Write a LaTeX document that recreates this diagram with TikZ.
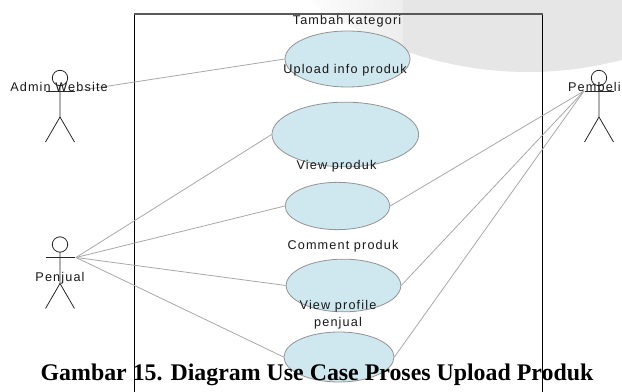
\documentclass[tikz,border=0pt]{standalone}
\usepackage{fontspec}
\setmainfont{Liberation Sans}
\newfontfamily\capfont{Liberation Serif}
\newfontfamily\lblfont[LetterSpace=9]{Liberation Sans}
\usetikzlibrary{shapes.geometric}
\definecolor{uc}{HTML}{CFE7EE}
\definecolor{wm}{HTML}{E6E6E6}
\definecolor{wml}{HTML}{EDEDED}
\definecolor{lnk}{HTML}{A8A8A8}
\tikzset{
  x=0.75pt,y=-0.75pt,
  usecase/.style={ellipse,draw=gray!85,fill=uc,line width=0.6pt,inner sep=0pt},
  lbl/.style={font=\lblfont\fontsize{9.5pt}{12.75pt}\selectfont,text=black!90,align=center,inner sep=0pt},
  assoc/.style={draw=lnk,line width=0.6pt},
  stick/.style={draw=black!85,line width=0.6pt},
}
\newcommand{\stickman}[3]{%
  \draw[stick] (#1,#2-13) circle (7.7);
  \draw[stick] (#1-14.5,#2) -- (#1+14.5,#2);
  \draw[stick] (#1,#2-5) -- (#1,#2+26) -- (#1-14.5,#2+51);
  \draw[stick] (#1,#2+26) -- (#1+14.5,#2+51);
}
\begin{document}
\begin{tikzpicture}
\useasboundingbox (0,0) rectangle (622,392);
\fill[white] (0,0) rectangle (622,392);
\begin{scope}
\clip (528,-296) circle (368);
\shade[left color=white,right color=wml] (300,0) rectangle (403,80);
\fill[wm] (403,0) rectangle (622,80);
\end{scope}
\draw[black,line width=0.7pt] (134.5,392) -- (134.5,14);
\draw[black,line width=0.7pt] (542.5,14) -- (542.5,392);
\draw[black!65,line width=0.9pt] (134,14) -- (543,14);
\stickman{60}{91}{a}
\stickman{60}{257.5}{b}
\stickman{599}{91}{c}
\coordinate (admin) at (76,91);
\coordinate (penjual) at (76,257.5);
\coordinate (pembeli) at (584,91);
\node[usecase,minimum width=93.75pt,minimum height=42pt] (u1) at (347.5,59) {};
\node[usecase,minimum width=110pt,minimum height=48.5pt] (u2) at (345.3,134.5) {};
\node[usecase,minimum width=78.5pt,minimum height=35.5pt] (u3) at (337.5,206) {};
\node[usecase,minimum width=86pt,minimum height=39.5pt] (u4) at (343.5,285.5) {};
\node[usecase,minimum width=82.5pt,minimum height=37.5pt] (u5) at (339,357) {};
\draw[assoc] (admin) -- (u1.west);
\draw[assoc] (penjual) -- (u2.west);
\draw[assoc] (penjual) -- (u3.west);
\draw[assoc] (penjual) -- (u4.west);
\draw[assoc] (penjual) -- (u5.west);
\draw[assoc] (pembeli) -- (u3.east);
\draw[assoc] (pembeli) -- (u4.east);
\draw[assoc] (pembeli) -- (u5.east);
\node[lbl] (t1) at (347,21.5) {Tambah kategori};
\node[lbl] (t2) at (345,70) {Upload info produk};
\node[lbl] (t3) at (336.5,166.5) {View produk};
\node[lbl] (t4) at (343,246) {Comment produk};
\node[lbl] (t5) at (338,315) {View profile\\penjual};
\node[lbl] (t6) at (59,87) {Admin Website};
\node[lbl,anchor=east] (t7) at (621,87) {Pembeli};
\node[lbl] (t8) at (60,278) {Penjual};
\node[inner sep=0pt,font=\capfont\bfseries\fontsize{17.9pt}{20pt}\selectfont] (cap) at (317,375) {Gambar 15. Diagram Use Case Proses Upload Produk};
\end{tikzpicture}
\end{document}
